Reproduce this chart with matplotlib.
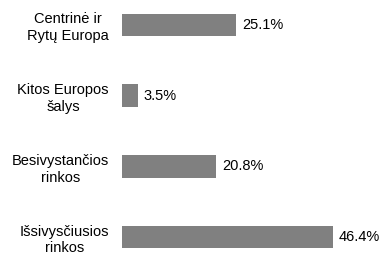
import matplotlib
matplotlib.use("Agg")
import matplotlib.pyplot as plt

categories = ["Centrinė ir\nRytų Europa", "Kitos Europos\nšalys", "Besivystančios\nrinkos", "Išsivysčiusios\nrinkos"]
values = [25.1, 3.5, 20.8, 46.4]
value_labels = ["25.1%", "3.5%", "20.8%", "46.4%"]

plt.rcParams['font.family'] = ['Liberation Sans', 'DejaVu Sans']

fig = plt.figure(figsize=(3.82, 2.54), dpi=100)
ax = fig.add_axes([122/382, 0, 1 - 122/382, 1])
y = list(range(len(categories)))
ax.barh(y, values, height=0.32, color='#808080')
ax.set_xlim(0, (382 - 122) / 4.54)
ax.set_ylim(3 + 17/70.7, -25/70.7)
ax.set_yticks(y)
ax.set_yticklabels(categories, fontsize=10.5, multialignment='center', linespacing=1.25)
ax.tick_params(axis='y', length=0, pad=9.4)
ax.set_xticks([])
for s in ax.spines.values():
    s.set_visible(False)
for yi, v, lab in zip(y, values, value_labels):
    ax.text(v + 6/4.54, yi, lab, va='center', ha='left', fontsize=10.5)

fig.savefig("out.png", dpi=100)
